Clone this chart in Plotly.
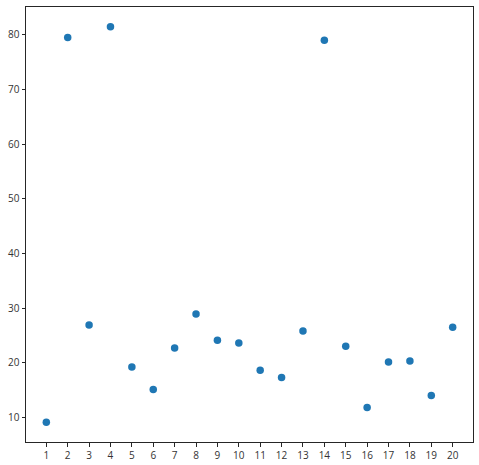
import plotly.graph_objects as go

x_vals = list(range(1, 21))
y_vals = [9.1, 79.5, 26.9, 81.5, 19.2, 15.1, 22.7, 28.9, 24.1, 23.6,
          18.6, 17.3, 25.8, 79.0, 23.0, 11.8, 20.1, 20.3, 14.0, 26.5]
x_ticks = list(range(1, 21))
y_ticks = [10, 20, 30, 40, 50, 60, 70, 80]

fig = go.Figure(go.Scatter(
    x=x_vals, y=y_vals, mode="markers",
    marker=dict(color="#1f77b4", size=7.5, line=dict(width=0)),
    cliponaxis=False,
))

axis_common = dict(
    showline=True, mirror=True, linecolor="#262626", linewidth=1,
    ticks="outside", ticklen=3.5, tickwidth=1, tickcolor="#262626",
    showgrid=False, zeroline=False, automargin=False,
    tickfont=dict(family="Open Sans", size=10, color="#333333"),
)

fig.update_layout(
    width=479, height=465,
    margin=dict(l=26, r=6, t=7, b=23),
    paper_bgcolor="white", plot_bgcolor="white",
    showlegend=False,
    xaxis=dict(range=[0.05, 20.95], tickvals=x_ticks, **axis_common),
    yaxis=dict(range=[5.48, 85.1], tickvals=y_ticks, **axis_common),
)

fig.write_html(
    "out.html",
    config={"displayModeBar": False},
    post_script="document.body.style.margin='0';document.body.style.overflow='hidden';",
)
